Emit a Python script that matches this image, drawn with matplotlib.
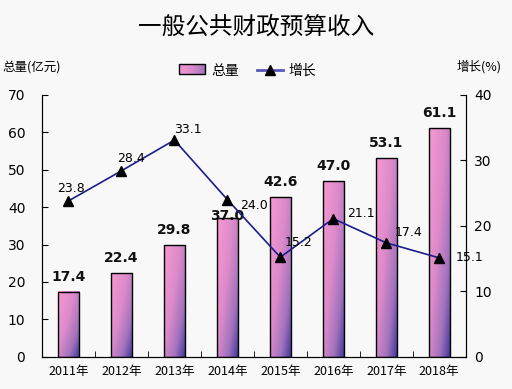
import numpy as np
import matplotlib
matplotlib.use("Agg")
import matplotlib.pyplot as plt
from matplotlib.colors import LinearSegmentedColormap
from matplotlib.patches import Rectangle
from matplotlib.lines import Line2D
from matplotlib.legend_handler import HandlerBase

plt.rcParams['font.family'] = ['Noto Sans CJK SC', 'DejaVu Sans']

years = ['2011年', '2012年', '2013年', '2014年', '2015年', '2016年', '2017年', '2018年']
total = [17.4, 22.4, 29.8, 37.0, 42.6, 47.0, 53.1, 61.1]
growth = [23.8, 28.4, 33.1, 24.0, 15.2, 21.1, 17.4, 15.1]

bg = '#f8f8f8'
line_color = '#1c1c8c'
cmap = LinearSegmentedColormap.from_list(
    'g', [(0.0, '#f698d2'), (0.4, '#dc8aca'), (0.72, '#a072bc'), (1.0, '#3c3498')])

fig = plt.figure(figsize=(5.12, 3.89), dpi=100, facecolor=bg)
ax = fig.add_axes([0.082, 0.083, 0.8276, 0.673])
ax.set_facecolor(bg)

x = np.arange(len(years))
w = 0.4
bars = ax.bar(x, total, width=w, facecolor='none', edgecolor='black', linewidth=1.0, zorder=3)

nu, nv = 40, 120
u = np.linspace(0, 1, nu)[None, :]
v = np.linspace(0, 1, nv)[:, None]
for b in bars:
    x0 = b.get_x(); h = b.get_height()
    t = 0.55 * u + 0.45 * v ** 1.3
    t = np.clip(t, 0, 1)
    ax.imshow(t, cmap=cmap, vmin=0, vmax=1, extent=(x0, x0 + w, 0, h),
              origin='upper', aspect='auto', zorder=2, interpolation='bilinear')

label_lift = [4.0, 4.0, 4.0, 0.6, 4.0, 4.0, 4.0, 4.0]
for xi, val, lift in zip(x, total, label_lift):
    ax.text(xi, val + lift, f'{val:.1f}', ha='center', va='center', fontsize=10,
            fontweight='bold', family='DejaVu Sans', color='#111111', zorder=4)

ax.set_xlim(-0.5, 7.5)
ax.set_ylim(0, 70)
ax.set_yticks(range(0, 71, 10))
ax.set_xticks(x)
ax.set_xticklabels(years, fontsize=9)
ax.set_xticks(np.arange(0.5, 7.5, 1), minor=True)
ax.tick_params(axis='x', which='major', length=0, pad=6)
ax.tick_params(axis='x', which='minor', direction='in', length=4)
ax.tick_params(axis='y', direction='in', length=4, labelsize=10, pad=12)
for lab in ax.get_yticklabels():
    lab.set_family('DejaVu Sans')
ax.spines['top'].set_visible(False)

ax2 = ax.twinx()
ax2.set_ylim(0, 40)
ax2.set_yticks(range(0, 41, 10))
ax2.tick_params(axis='y', direction='in', length=4, labelsize=10, pad=6)
for lab in ax2.get_yticklabels():
    lab.set_family('DejaVu Sans')
ax2.spines['top'].set_visible(False)
ax2.plot(x, growth, color=line_color, linewidth=1.2, marker='^', markersize=7,
         markerfacecolor='black', markeredgecolor='black', zorder=5)

offsets = [(-8, 4, 'left', 'bottom'), (-3, 4, 'left', 'bottom'), (0, 3, 'left', 'bottom'),
           (9, -4, 'left', 'center'), (3, 6, 'left', 'bottom'), (10, 4, 'left', 'center'),
           (6, 3, 'left', 'bottom'), (12, 0, 'left', 'center')]
for xi, g, (dx, dy, ha, va) in zip(x, growth, offsets):
    ax2.annotate(f'{g:.1f}', (xi, g), xytext=(dx, dy), textcoords='offset points',
                 ha=ha, va=va, fontsize=9, family='DejaVu Sans', color='black', zorder=6)

fig.text(0.5, 0.93, '一般公共财政预算收入', ha='center', va='center', fontsize=17, fontweight='medium')
fig.text(0.004, 0.828, '总量(亿元)', ha='left', va='center', fontsize=9)
fig.text(0.98, 0.828, '增长(%)', ha='right', va='center', fontsize=9)


class GradHandler(HandlerBase):
    def create_artists(self, legend, orig_handle, xdescent, ydescent, width, height, fontsize, trans):
        arts = []
        n = 12
        for i in range(n):
            r = Rectangle((xdescent + width * i / n, ydescent), width / n + 0.3, height,
                          facecolor=cmap(0.1 + 0.6 * i / (n - 1)), edgecolor='none', transform=trans)
            arts.append(r)
        arts.append(Rectangle((xdescent, ydescent), width, height, facecolor='none',
                              edgecolor='black', linewidth=1.0, transform=trans))
        return arts


h1 = Rectangle((0, 0), 1, 1)
h2 = Line2D([], [], color='#5858b8', linewidth=2, marker='^', markersize=7,
            markerfacecolor='black', markeredgecolor='black')
fig.legend([h1, h2], ['总量', '增长'], handler_map={Rectangle: GradHandler()},
           loc='center', bbox_to_anchor=(0.484, 0.818), ncol=2, frameon=False, fontsize=10,
           handlelength=1.9, handleheight=0.8, columnspacing=1.3, handletextpad=0.4)

fig.savefig('out.png', dpi=100, facecolor=bg)
